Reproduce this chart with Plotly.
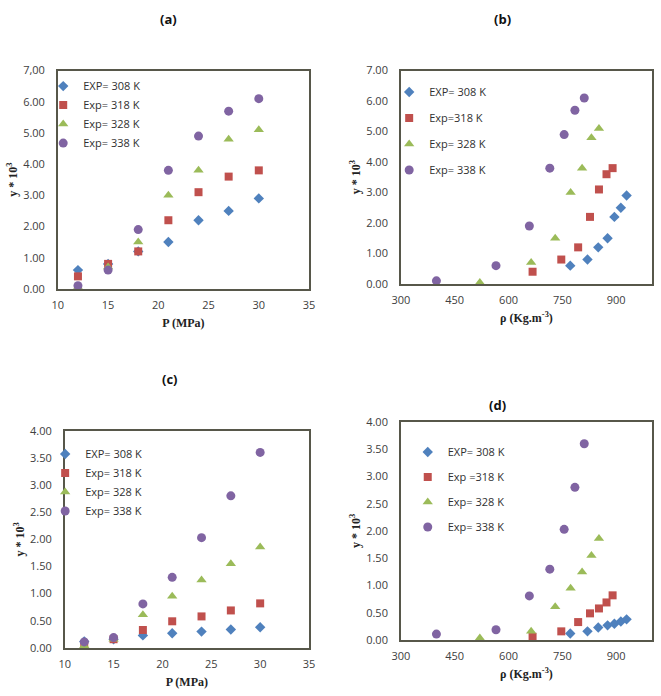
import plotly.graph_objects as go

W, H = 661, 696

# ---------------- data ----------------
pressure = [12, 15, 18, 21, 24, 27, 30]          # MPa
rho_308 = [772, 820, 850, 876, 895, 913, 929]    # kg/m3
rho_318 = [667, 747, 794, 827, 852, 873, 890]
rho_328 = [520, 663, 730, 773, 805, 831, 852]
rho_338 = [399, 565, 658, 715, 755, 785, 811]

# panel (a)/(b) solubility y*10^3
ya_308 = [0.6, 0.8, 1.2, 1.5, 2.2, 2.5, 2.9]
ya_318 = [0.4, 0.8, 1.2, 2.2, 3.1, 3.6, 3.8]
ya_328 = [0.05, 0.7, 1.5, 3.0, 3.8, 4.8, 5.1]
ya_338 = [0.1, 0.6, 1.9, 3.8, 4.9, 5.7, 6.1]

# panel (c)/(d) solubility y*10^3
yc_308 = [0.12, 0.16, 0.23, 0.27, 0.30, 0.34, 0.38]
yc_318 = [0.06, 0.16, 0.33, 0.49, 0.58, 0.69, 0.82]
yc_328 = [0.04, 0.16, 0.61, 0.95, 1.25, 1.55, 1.86]
yc_338 = [0.11, 0.19, 0.81, 1.30, 2.03, 2.80, 3.60]

names_a = ["EXP= 308 K", "Exp= 318 K", "Exp= 328 K", "Exp= 338 K"]
names_b = ["EXP= 308 K", "Exp=318 K", "Exp= 328 K", "Exp= 338 K"]
names_c = ["EXP= 308 K", "Exp= 318 K", "Exp= 328 K", "Exp= 338 K"]
names_d = ["EXP= 308 K", "Exp =318 K", "Exp= 328 K", "Exp= 338 K"]

p_ticks = [10, 15, 20, 25, 30, 35]
rho_ticks = [300, 450, 600, 750, 900]
y7_ticks = [0, 1, 2, 3, 4, 5, 6, 7]
y7_text = ["0.00", "1.00", "2.00", "3.00", "4.00", "5.00", "6.00", "7,00"]
y7b_text = ["0.00", "1.00", "2.00", "3.00", "4.00", "5.00", "6.00", "7.00"]
y4_ticks = [0, 0.5, 1, 1.5, 2, 2.5, 3, 3.5, 4]
y4_text = ["0.00", "0.50", "1.00", "1.50", "2.00", "2.50", "3.00", "3.50", "4.00"]

p_title = "<b>P (MPa)</b>"
rho_title = "<b>ρ (Kg.m<sup>-3</sup>)</b>"
y_title = "<b>y * 10<sup>3</sup></b>"

colors = ["#4F81BD", "#C0504D", "#9BBB59", "#8064A2"]
symbols = ["diamond", "square", "triangle-up", "circle"]
sizes = [8, 8, 9, 9]

# ---------------- geometry (pixels) ----------------
def px_x(x0, x1):
    return [x0 / W, x1 / W]

def px_y(top, bottom):
    return [1 - bottom / H, 1 - top / H]

panels = {
    "a": dict(x=(50, 307), y=(64, 287)),
    "b": dict(x=(401, 658), y=(64, 282)),
    "c": dict(x=(57, 307), y=(432, 654)),
    "d": dict(x=(401, 658), y=(423, 646)),
}

fig = go.Figure()

series = [
    ("a", "x", "y", "legend", [pressure] * 4, [ya_308, ya_318, ya_328, ya_338], names_a),
    ("b", "x2", "y2", "legend2", [rho_308, rho_318, rho_328, rho_338], [ya_308, ya_318, ya_328, ya_338], names_b),
    ("c", "x3", "y3", "legend3", [pressure] * 4, [yc_308, yc_318, yc_328, yc_338], names_c),
    ("d", "x4", "y4", "legend4", [rho_308, rho_318, rho_328, rho_338], [yc_308, yc_318, yc_328, yc_338], names_d),
]

for key, xa, ya, leg, xs, ys, names in series:
    for i in range(4):
        fig.add_trace(go.Scatter(
            x=xs[i], y=ys[i], mode="markers", name=names[i],
            xaxis=xa, yaxis=ya, legend=leg, legendgroup=f"{key}{i}",
            cliponaxis=False,
            marker=dict(symbol=symbols[i], color=colors[i], size=sizes[i], line=dict(width=0)),
        ))

tickfont = dict(family="Open Sans", size=11, color="#404040")
serif = dict(family="Liberation Serif", size=12, color="#222222")
linecol = "#57574a"

def xaxis(key, rng, ticks, anchor, title):
    return dict(domain=px_x(*panels[key]["x"]), range=rng, tickvals=ticks, anchor=anchor,
                showgrid=False, zeroline=False, showline=True, mirror=True, linecolor=linecol,
                linewidth=1.5, ticks="", tickfont=tickfont, ticklabelstandoff=5, fixedrange=True,
                title=dict(text=title, font=serif, standoff=8))

def yaxis(key, rng, ticks, text, anchor, title):
    return dict(domain=px_y(*panels[key]["y"]), range=rng, tickvals=ticks, ticktext=text, anchor=anchor,
                showgrid=False, zeroline=False, showline=True, mirror=True, linecolor=linecol,
                linewidth=1.5, ticks="", tickfont=tickfont, ticklabelstandoff=9, fixedrange=True,
                title=dict(text=title, font=serif, standoff=3))

def legend(left_px, top_px, gap):
    return dict(x=left_px / W, y=1 - top_px / H, xanchor="left", yanchor="top",
                bgcolor="rgba(0,0,0,0)", borderwidth=0, tracegroupgap=gap,
                font=dict(family="Open Sans", size=11, color="#303030"))

fig.update_layout(
    width=W, height=H, margin=dict(l=0, r=0, t=0, b=0),
    paper_bgcolor="white", plot_bgcolor="white", showlegend=True,
    xaxis=xaxis("a", [10, 35], p_ticks, "y", p_title),
    yaxis=yaxis("a", [0, 7], y7_ticks, y7_text, "x", y_title),
    xaxis2=xaxis("b", [300, 1000], rho_ticks, "y2", rho_title),
    yaxis2=yaxis("b", [0, 7], y7_ticks, y7b_text, "x2", y_title),
    xaxis3=xaxis("c", [10, 35], p_ticks, "y3", p_title),
    yaxis3=yaxis("c", [0, 4], y4_ticks, y4_text, "x3", y_title),
    xaxis4=xaxis("d", [300, 1000], rho_ticks, "y4", rho_title),
    yaxis4=yaxis("d", [0, 4], y4_ticks, y4_text, "x4", y_title),
    legend=legend(35, 65, 0),
    legend2=legend(389, 71, 7),
    legend3=legend(37, 441, 0),
    legend4=legend(408, 439, 6),
)

bold_title = dict(family="Open Sans", size=13, color="#111111")

def ann(text, x, y, font):
    fig.add_annotation(text=text, x=x / W, y=1 - y / H, xref="paper", yref="paper",
                       showarrow=False, font=font, xanchor="center", yanchor="middle")

# panel titles
ann("<b>(a)</b>", 163, 11, bold_title)
ann("<b>(b)</b>", 505, 11, bold_title)
ann("<b>(c)</b>", 165, 379, bold_title)
ann("<b>(d)</b>", 500, 406, bold_title)

fig.write_html("out.html", config={"displayModeBar": False},
               post_script="document.body.style.margin='0';document.body.style.overflow='hidden';")
